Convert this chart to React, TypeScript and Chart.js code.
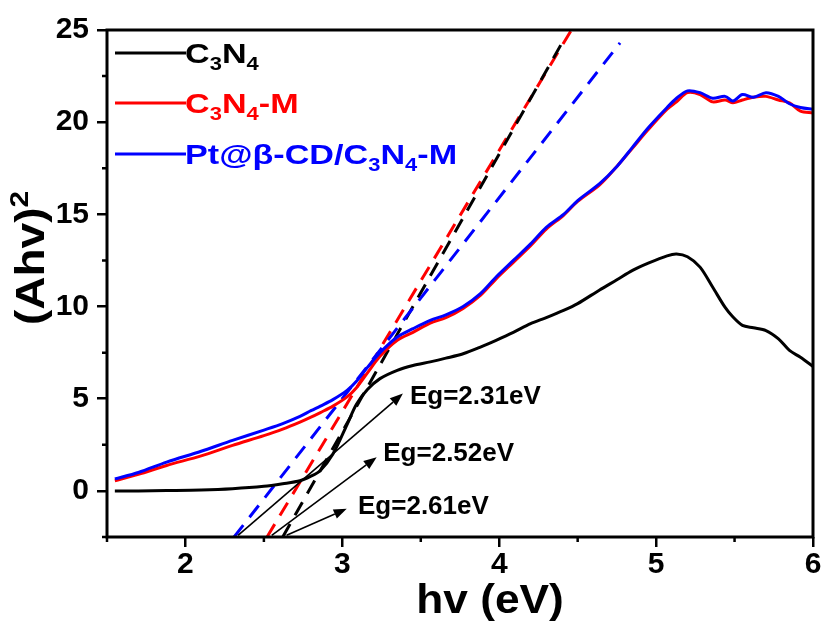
import React, { useEffect, useRef } from 'react';
import { Chart, registerables } from 'chart.js';

Chart.register(...registerables);

// ---- data ----
const energy = [
  1.55, 1.7, 1.88, 2.1, 2.3, 2.5, 2.62, 2.73, 2.8, 2.86, 2.94, 3.03, 3.09, 3.16, 3.24,
  3.35, 3.45, 3.56, 3.66, 3.77, 3.88, 3.98, 4.09, 4.2, 4.3, 4.41, 4.5, 4.64, 4.75,
  4.85, 4.95, 5.07, 5.13, 5.2, 5.28, 5.36, 5.44, 5.49, 5.55, 5.62, 5.7, 5.78, 5.85,
  5.92, 6.0,
];
const c3n4 = [
  0.0, 0.0, 0.02, 0.05, 0.12, 0.25, 0.39, 0.55, 0.8, 1.11, 2.0, 3.6, 4.7, 5.5, 6.09,
  6.54, 6.8, 7.0, 7.2, 7.44, 7.8, 8.17, 8.6, 9.07, 9.4, 9.79, 10.16, 10.9, 11.45,
  11.96, 12.35, 12.75, 12.85, 12.7, 12.14, 11.06, 9.95, 9.43, 8.98, 8.85, 8.7, 8.25,
  7.62, 7.25, 6.75,
];
const c3n4M = [
  0.55, 0.9, 1.38, 1.9, 2.47, 3.0, 3.35, 3.73, 4.0, 4.25, 4.6, 5.1, 5.6, 6.4, 7.3,
  8.17, 8.6, 9.1, 9.4, 9.9, 10.6, 11.5, 12.4, 13.3, 14.2, 14.95, 15.7, 16.6, 17.6,
  18.6, 19.6, 20.7, 21.1, 21.6, 21.5, 21.1, 21.2, 21.05, 21.2, 21.35, 21.4, 21.2,
  21.05, 20.6, 20.5,
];
const ptCdC3n4M = [
  0.65, 1.0, 1.56, 2.15, 2.74, 3.3, 3.65, 4.04, 4.35, 4.6, 4.95, 5.45, 5.95, 6.7, 7.5,
  8.35, 8.8, 9.25, 9.55, 10.0, 10.7, 11.6, 12.5, 13.4, 14.3, 15.0, 15.75, 16.67, 17.6,
  18.65, 19.7, 20.8, 21.3, 21.7, 21.6, 21.3, 21.4, 21.15, 21.5, 21.35, 21.6, 21.4,
  21.0, 20.8, 20.7,
];

const seriesNames = ['C3N4', 'C3N4-M', 'Pt@β-CD/C3N4-M'];
const seriesColors = ['#000000', '#ff0000', '#0000ff'];

// tangent (extrapolation) lines: [start, end]
const tangentBlackX = [2.62, 4.42];
const tangentBlackY = [-2.5, 24.6];
const tangentRedX = [2.52, 4.46];
const tangentRedY = [-2.5, 25];
const tangentBlueX = [2.31, 4.77];
const tangentBlueY = [-2.5, 24.3];

// band gap annotations
const egLabels = ['Eg=2.31eV', 'Eg=2.52eV', 'Eg=2.61eV'];
const arrowStartX = [2.335, 2.55, 2.645];
const arrowStartY = [-2.41, -2.41, -2.41];
const arrowEndX = [3.386, 3.219, 3.028];
const arrowEndY = [5.28, 1.83, -0.97];
const labelX = [3.431, 3.261, 3.1];
const labelY = [5.12, 2.03, -0.89];

const xTicks = [2, 3, 4, 5, 6];
const yTicks = [0, 5, 10, 15, 20, 25];
const xMinor = [1.5, 2.5, 3.5, 4.5, 5.5];
const yMinor = [-2.5, 2.5, 7.5, 12.5, 17.5, 22.5];

const xTitle = 'hv (eV)';
const yTitleMain = '(Ahv)';
const yTitleSup = '2';

const FONT = '"Liberation Sans", Arial, sans-serif';

const pts = (xs: number[], ys: number[]) => xs.map((x, i) => ({ x, y: ys[i] }));

// draw text where digits are subscripts
function drawSubText(ctx: CanvasRenderingContext2D, text: string, x: number, y: number, size: number, color: string, stretch: number) {
  const subSize = Math.round(size * 0.64);
  const parts = text.split(/(\d)/).filter((p) => p.length > 0);
  ctx.save();
  ctx.translate(x, y);
  ctx.scale(stretch, 1);
  ctx.fillStyle = color;
  ctx.textBaseline = 'alphabetic';
  ctx.textAlign = 'left';
  let cx = 0;
  for (const p of parts) {
    const isSub = /^\d$/.test(p);
    ctx.font = `bold ${isSub ? subSize : size}px ${FONT}`;
    ctx.fillText(p, cx, isSub ? size * 0.26 : 0);
    cx += ctx.measureText(p).width;
  }
  ctx.restore();
}

const decorPlugin = {
  id: 'decor',
  afterDatasetsDraw(chart: any) {
    const { ctx, scales } = chart;
    const xs = scales.x;
    const ys = scales.y;
    ctx.save();
    // arrows
    ctx.strokeStyle = '#000';
    ctx.fillStyle = '#000';
    ctx.lineWidth = 1.6;
    for (let i = 0; i < egLabels.length; i++) {
      const x0 = xs.getPixelForValue(arrowStartX[i]);
      const y0 = ys.getPixelForValue(arrowStartY[i]);
      const x1 = xs.getPixelForValue(arrowEndX[i]);
      const y1 = ys.getPixelForValue(arrowEndY[i]);
      const ang = Math.atan2(y1 - y0, x1 - x0);
      const hl = 13;
      const hw = 5;
      const bx = x1 - hl * Math.cos(ang);
      const by = y1 - hl * Math.sin(ang);
      ctx.beginPath();
      ctx.moveTo(x0, y0);
      ctx.lineTo(bx, by);
      ctx.stroke();
      ctx.beginPath();
      ctx.moveTo(x1, y1);
      ctx.lineTo(bx + hw * Math.sin(ang), by - hw * Math.cos(ang));
      ctx.lineTo(bx - hw * Math.sin(ang), by + hw * Math.cos(ang));
      ctx.closePath();
      ctx.fill();
      // label
      ctx.font = `bold 26px ${FONT}`;
      ctx.textAlign = 'left';
      ctx.textBaseline = 'middle';
      ctx.fillText(egLabels[i], xs.getPixelForValue(labelX[i]), ys.getPixelForValue(labelY[i]));
    }
    ctx.restore();
  },
  afterDraw(chart: any) {
    const { ctx, chartArea: a, scales } = chart;
    const xs = scales.x;
    const ys = scales.y;
    ctx.save();
    // frame
    ctx.strokeStyle = '#000';
    ctx.lineWidth = 3;
    ctx.strokeRect(a.left, a.top, a.right - a.left, a.bottom - a.top);
    // minor ticks
    ctx.lineWidth = 2.5;
    ctx.beginPath();
    for (const v of xMinor) {
      const px = xs.getPixelForValue(v);
      ctx.moveTo(px, a.bottom);
      ctx.lineTo(px, a.bottom + 5);
    }
    for (const v of yMinor) {
      const py = ys.getPixelForValue(v);
      ctx.moveTo(a.left, py);
      ctx.lineTo(a.left - 5, py);
    }
    ctx.stroke();

    // legend
    const legendY = [53, 103, 154];
    for (let i = 0; i < seriesNames.length; i++) {
      ctx.strokeStyle = seriesColors[i];
      ctx.lineWidth = 3;
      ctx.beginPath();
      ctx.moveTo(115, legendY[i]);
      ctx.lineTo(186, legendY[i]);
      ctx.stroke();
      drawSubText(ctx, seriesNames[i], 185, legendY[i] + 10, 28, seriesColors[i], 1.22);
    }

    // x title
    ctx.fillStyle = '#000';
    ctx.font = `bold 41px ${FONT}`;
    ctx.textAlign = 'center';
    ctx.textBaseline = 'alphabetic';
    ctx.save();
    ctx.translate(490, 613);
    ctx.scale(1.08, 1);
    ctx.fillText(xTitle, 0, 0);
    ctx.restore();

    // y title rotated
    ctx.save();
    ctx.translate(44, 258);
    ctx.rotate(-Math.PI / 2);
    ctx.scale(1.15, 1);
    ctx.font = `bold 40px ${FONT}`;
    const mw = ctx.measureText(yTitleMain).width;
    ctx.font = `bold 26px ${FONT}`;
    const sw = ctx.measureText(yTitleSup).width;
    const start = -(mw + sw) / 2;
    ctx.textAlign = 'left';
    ctx.font = `bold 40px ${FONT}`;
    ctx.fillText(yTitleMain, start, 0);
    ctx.font = `bold 26px ${FONT}`;
    ctx.fillText(yTitleSup, start + mw, -16);
    ctx.restore();
    ctx.restore();
  },
};

export default function App() {
  const ref = useRef<HTMLCanvasElement | null>(null);
  useEffect(() => {
    if (!ref.current) return;
    const line = (label: string, data: any[], color: string, dashed: boolean, order: number) => ({
      label,
      data,
      borderColor: color,
      backgroundColor: color,
      borderWidth: 3,
      borderDash: dashed ? [15, 10] : [],
      pointRadius: 0,
      showLine: true,
      tension: dashed ? 0 : 0.3,
      order,
    });
    const chart = new Chart(ref.current, {
      type: 'scatter',
      data: {
        datasets: [
          line(seriesNames[0], pts(energy, c3n4), seriesColors[0], false, 3),
          line(seriesNames[1], pts(energy, c3n4M), seriesColors[1], false, 2),
          line(seriesNames[2], pts(energy, ptCdC3n4M), seriesColors[2], false, 1),
          line('tangent black', pts(tangentBlackX, tangentBlackY), seriesColors[0], true, 5),
          line('tangent red', pts(tangentRedX, tangentRedY), seriesColors[1], true, 6),
          line('tangent blue', pts(tangentBlueX, tangentBlueY), seriesColors[2], true, 4),
        ],
      },
      options: {
        responsive: false,
        animation: false,
        devicePixelRatio: 1,
        layout: { padding: { top: 30, right: 13, left: 0, bottom: 0 } },
        plugins: { legend: { display: false }, tooltip: { enabled: false } },
        scales: {
          x: {
            type: 'linear',
            min: 1.5,
            max: 6,
            afterFit: (s: any) => { s.height = 89; },
            afterBuildTicks: (s: any) => { s.ticks = xTicks.map((v) => ({ value: v })); },
            grid: { display: true, drawOnChartArea: false, drawTicks: true, tickLength: 10, color: '#000', lineWidth: 2.5 },
            border: { display: false },
            ticks: { color: '#000', font: { family: FONT, size: 30, weight: 'bold' }, padding: 0, maxRotation: 0 },
          },
          y: {
            type: 'linear',
            min: -2.5,
            max: 25,
            afterFit: (s: any) => { s.width = 107; },
            afterBuildTicks: (s: any) => { s.ticks = yTicks.map((v) => ({ value: v })); },
            grid: { display: true, drawOnChartArea: false, drawTicks: true, tickLength: 10, color: '#000', lineWidth: 2.5 },
            border: { display: false },
            ticks: { color: '#000', font: { family: FONT, size: 30, weight: 'bold' }, padding: 8 },
          },
        },
      },
      plugins: [decorPlugin],
    });
    return () => chart.destroy();
  }, []);
  return (
    <div style={{ position: 'fixed', left: 0, top: 0, width: 826, height: 626, background: '#fff' }}>
      <canvas ref={ref} width={826} height={626} style={{ width: 826, height: 626, display: 'block' }} />
    </div>
  );
}
